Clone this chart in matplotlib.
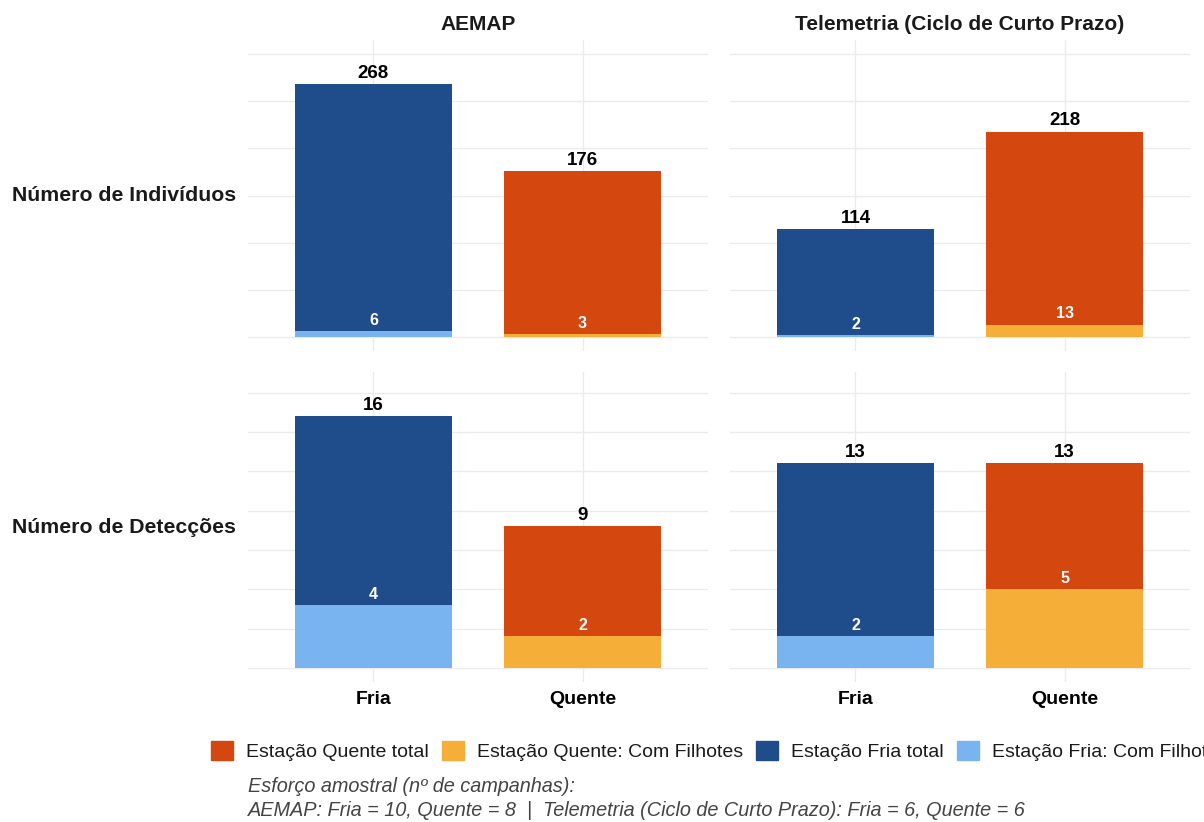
import matplotlib
matplotlib.use("Agg")
import matplotlib.pyplot as plt
from matplotlib.patches import Patch
from matplotlib.ticker import MultipleLocator

plt.rcParams['font.family'] = ['Liberation Sans', 'DejaVu Sans']

# ---- data ----
categories = ["Fria", "Quente"]
sources = ["AEMAP", "Telemetria (Ciclo de Curto Prazo)"]
metrics = ["Número de Indivíduos", "Número de Detecções"]

aemap_ind_total = [268, 176]
aemap_ind_filhotes = [6, 3]
tele_ind_total = [114, 218]
tele_ind_filhotes = [2, 13]
aemap_det_total = [16, 9]
aemap_det_filhotes = [4, 2]
tele_det_total = [13, 13]
tele_det_filhotes = [2, 5]

legend_labels = ["Estação Quente total", "Estação Quente: Com Filhotes",
                 "Estação Fria total", "Estação Fria: Com Filhotes"]
caption_lines = ["Esforço amostral (nº de campanhas):",
                 "AEMAP: Fria = 10, Quente = 8  |  Telemetria (Ciclo de Curto Prazo): Fria = 6, Quente = 6"]

col_total = {"Fria": "#1F4D8C", "Quente": "#D4470F"}
col_sub = {"Fria": "#7AB4F0", "Quente": "#F5AE37"}

W, H = 1204, 822
fig = plt.figure(figsize=(W / 100, H / 100), dpi=100)

col_x = [(248, 708), (730, 1190)]
row_y = [(40, 351), (372, 682)]

panels = [
    [(aemap_ind_total, aemap_ind_filhotes), (tele_ind_total, tele_ind_filhotes)],
    [(aemap_det_total, aemap_det_filhotes), (tele_det_total, tele_det_filhotes)],
]
row_major = [100, 5]
row_minor = [50, 2.5]

grid_col = "#EBEBEB"
for r in range(2):
    row_max = max(max(panels[r][0][0]), max(panels[r][1][0])) * 1.12
    pad = row_max * 0.05
    for c in range(2):
        x0, x1 = col_x[c]
        yt, yb = row_y[r]
        ax = fig.add_axes([x0 / W, 1 - yb / H, (x1 - x0) / W, (yb - yt) / H])
        totals, subs = panels[r][c]
        xs = list(range(len(categories)))
        for i, cat in enumerate(categories):
            ax.bar(i, totals[i], width=0.75, color=col_total[cat], zorder=2)
            ax.bar(i, subs[i], width=0.75, color=col_sub[cat], zorder=3)
            ax.annotate(str(totals[i]), (i, totals[i]), xytext=(0, 4.5),
                        textcoords="offset points", ha="center", va="baseline",
                        fontsize=13.5, fontweight="bold", color="black", zorder=4)
            ax.annotate(str(subs[i]), (i, subs[i]), xytext=(0, 4.5),
                        textcoords="offset points", ha="center", va="baseline",
                        fontsize=11.5, fontweight="bold", color="white", zorder=4)
        ax.set_xlim(-0.6, 1.6)
        ax.set_ylim(-pad, row_max + pad)
        ax.yaxis.set_major_locator(MultipleLocator(row_major[r]))
        ax.yaxis.set_minor_locator(MultipleLocator(row_minor[r]))
        ax.grid(axis="y", which="major", color=grid_col, lw=1.0, zorder=0)
        ax.grid(axis="y", which="minor", color=grid_col, lw=1.0, zorder=0)
        ax.grid(axis="x", which="major", color=grid_col, lw=1.0, zorder=0)
        ax.set_axisbelow(True)
        ax.set_xticks(xs)
        if r == 1:
            ax.set_xticklabels(categories, fontsize=14, fontweight="bold", color="black")
        else:
            ax.set_xticklabels([])
        ax.tick_params(axis="x", length=0, pad=6.6)
        ax.tick_params(axis="y", which="both", length=0, labelleft=False)
        for s in ax.spines.values():
            s.set_visible(False)
        if r == 0:
            fig.text((x0 + x1) / 2 / W, 1 - 24 / H, sources[c], ha="center", va="center",
                     fontsize=15, fontweight="bold", color="#1A1A1A")
        if c == 0:
            fig.text(12 / W, 1 - (yt + yb) / 2 / H, metrics[r], ha="left", va="center",
                     fontsize=15.3, fontweight="bold", color="#1A1A1A")

handles = [Patch(color=col_total["Quente"]), Patch(color=col_sub["Quente"]),
           Patch(color=col_total["Fria"]), Patch(color=col_sub["Fria"])]
fig.legend(handles, legend_labels, loc="center left", bbox_to_anchor=(211 / W, 1 - 751 / H),
           ncol=4, frameon=False, fontsize=14, handlelength=1.13, handleheight=1.13,
           handletextpad=0.67, columnspacing=0.67, borderpad=0, borderaxespad=0,
           labelcolor="#1A1A1A")

fig.text(248 / W, 1 - 786 / H, caption_lines[0], ha="left", va="center",
         fontsize=14.3, style="italic", color="#444444")
fig.text(248 / W, 1 - 810 / H, caption_lines[1], ha="left", va="center",
         fontsize=14.3, style="italic", color="#444444")

fig.savefig("out.png", dpi=100)
